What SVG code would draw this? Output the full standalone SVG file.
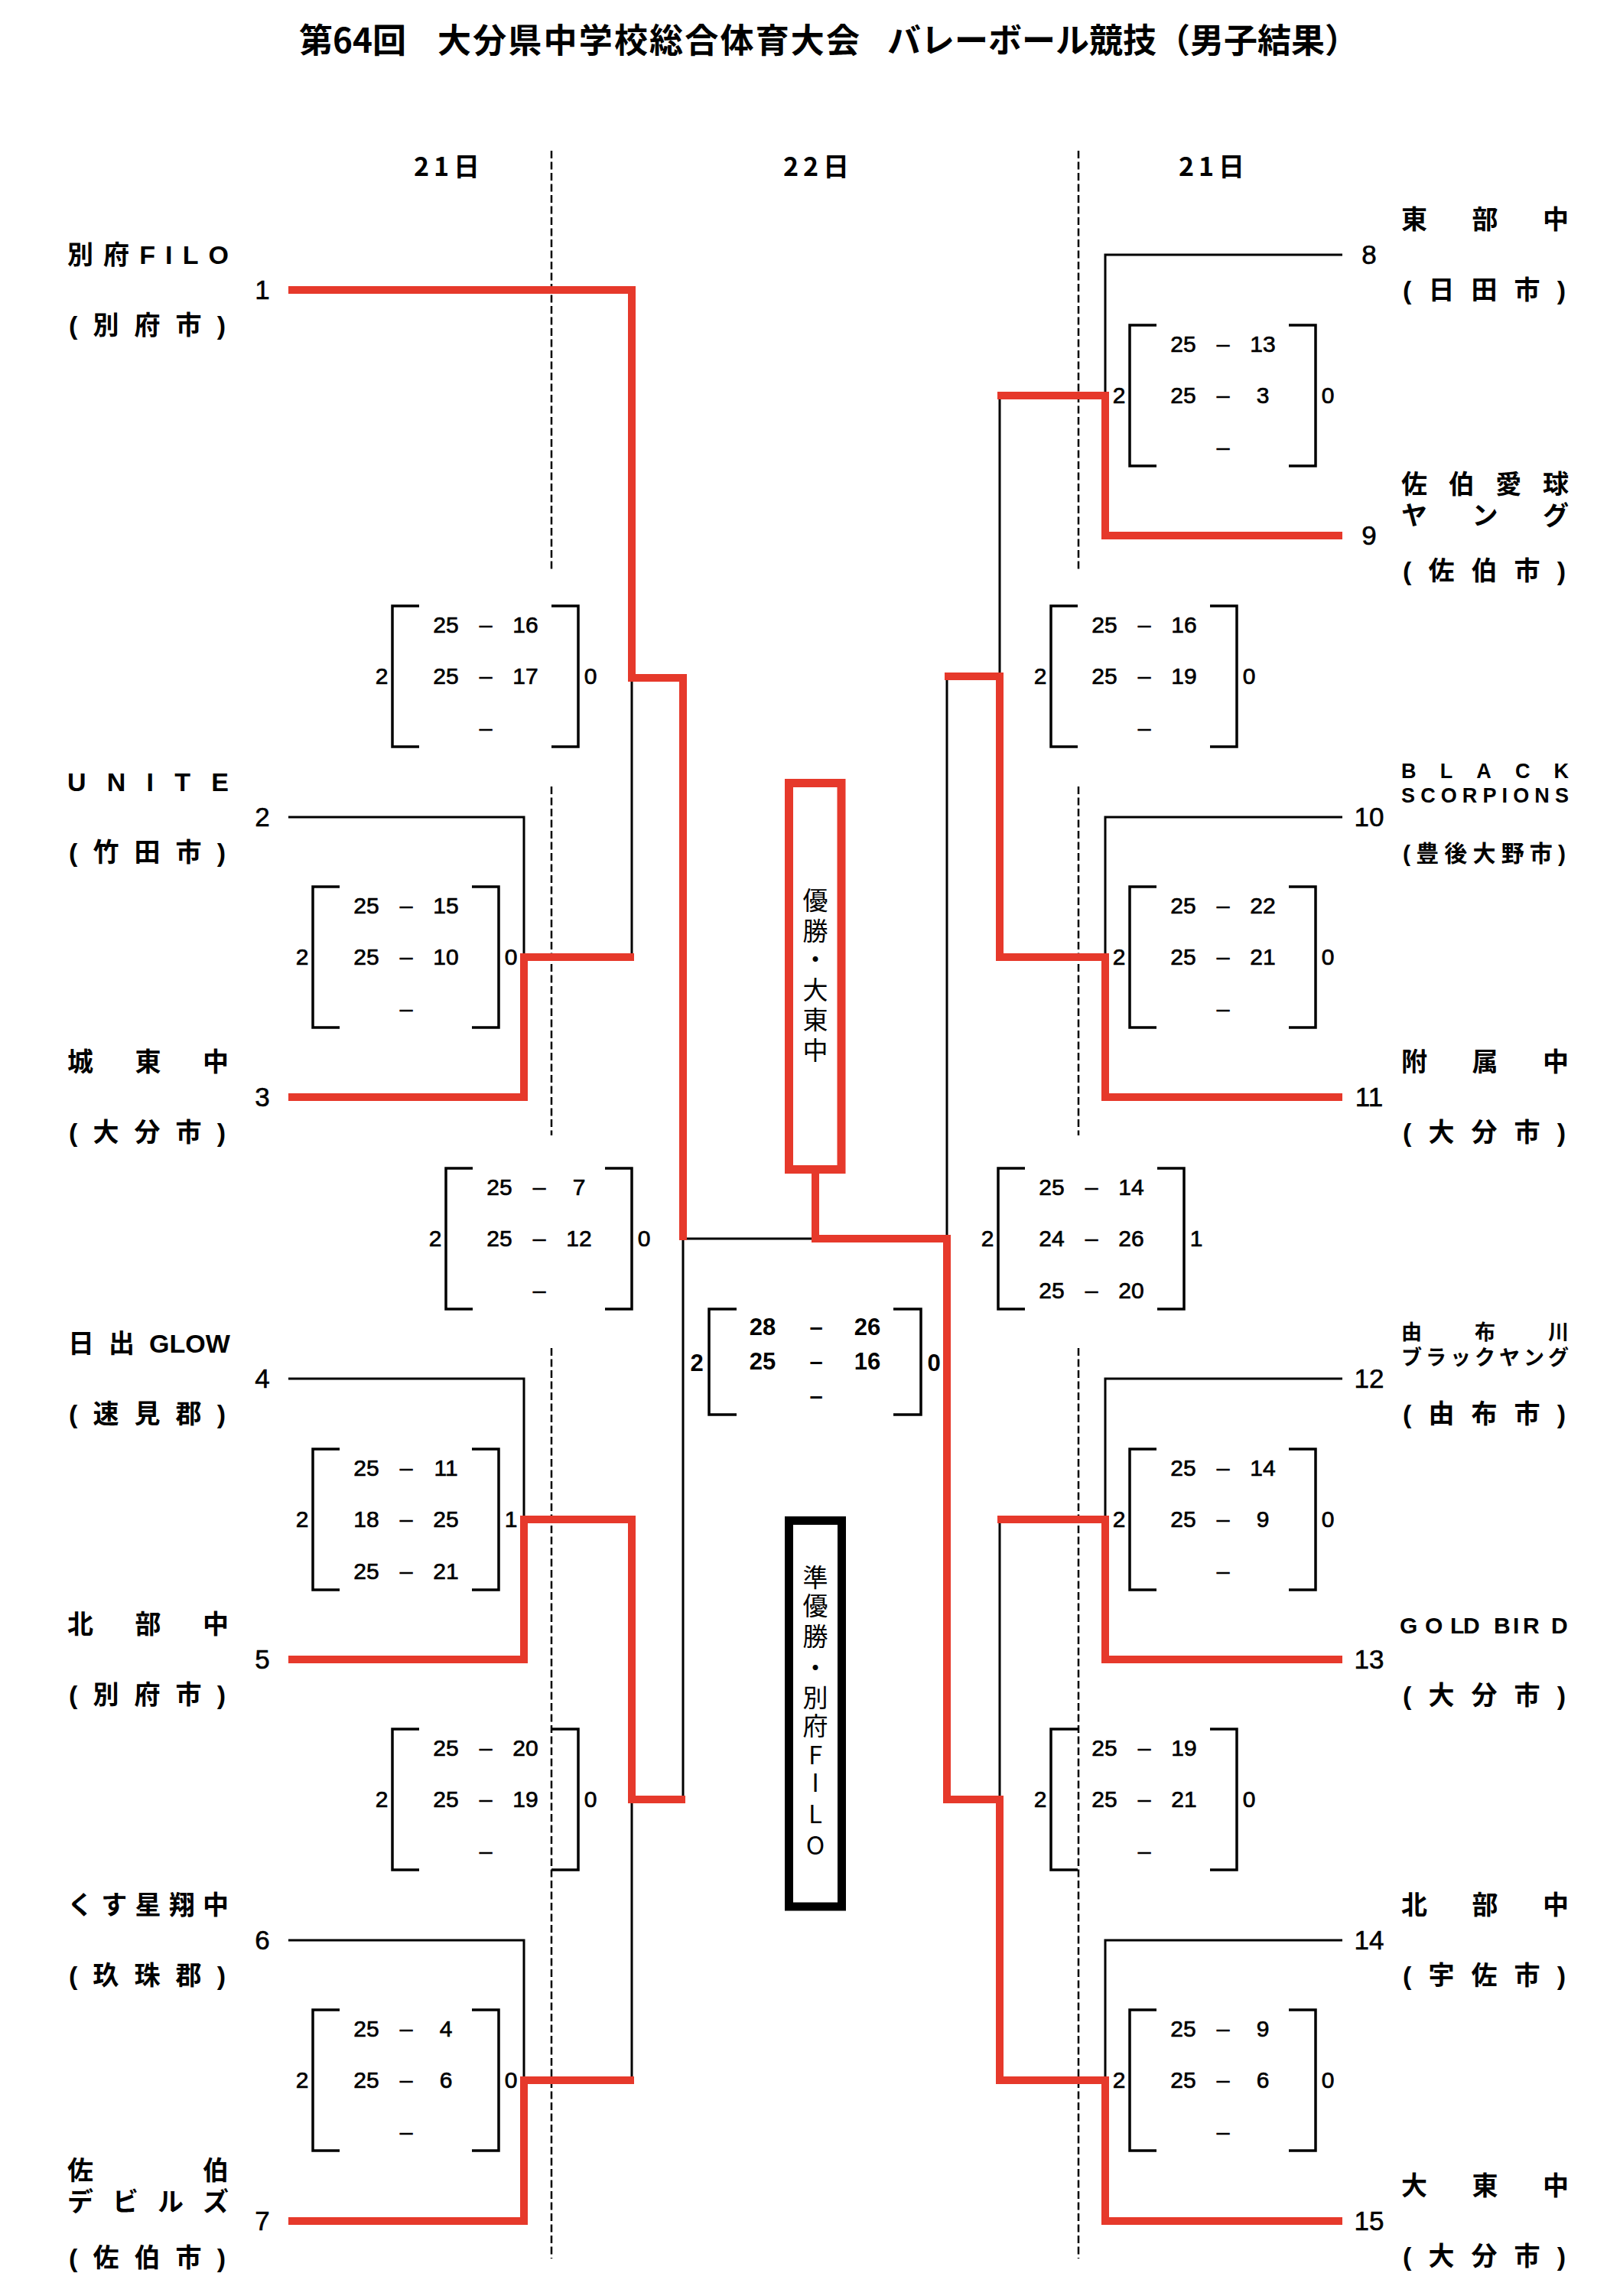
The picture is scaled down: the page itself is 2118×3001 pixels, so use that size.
<svg xmlns="http://www.w3.org/2000/svg" width="2118" height="3001" viewBox="0 0 2118 3001">
<style>
.r{fill:none;stroke:#e6392b;stroke-width:10;stroke-linejoin:miter;stroke-linecap:butt}
.k{fill:none;stroke:#000;stroke-width:3}
.b{fill:none;stroke:#000;stroke-width:3.5}
.d{fill:none;stroke:#000;stroke-width:2.5;stroke-dasharray:10 4.5}
text{fill:#000}
.nm{font-family:"Liberation Sans","Noto Sans CJK JP",sans-serif;font-weight:700;font-size:34px}
.sm{font-size:27px}
.md{font-size:30px}
.no{font-family:"Liberation Sans",sans-serif;font-size:35px;text-anchor:middle;stroke:#000;stroke-width:0.6}
.sc{font-family:"Liberation Sans",sans-serif;font-size:30px;text-anchor:middle;stroke:#000;stroke-width:0.7}
.fs{font-family:"Liberation Sans",sans-serif;font-size:31px;font-weight:700;text-anchor:middle}
.vt{font-family:"Noto Sans CJK JP",sans-serif;font-size:33px;text-anchor:middle}
.ti{font-family:"Noto Sans CJK JP",sans-serif;font-weight:700;font-size:44px}
.dt{font-family:"Noto Sans CJK JP",sans-serif;font-weight:700;font-size:34px;text-anchor:middle}
</style>
<rect width="2118" height="3001" fill="#fff"/>

<g id="title"><text class="ti" y="69"><tspan x="391">第64回</tspan><tspan x="572" textLength="552" lengthAdjust="spacing">大分県中学校総合体育大会</tspan><tspan x="1160">バレーボール競技（男子結果）</tspan></text></g>
<g id="dates">
<text class="dt" x="584" y="230" textLength="86" lengthAdjust="spacing">21日</text>
<text class="dt" x="1067" y="230" textLength="86" lengthAdjust="spacing">22日</text>
<text class="dt" x="1584" y="230" textLength="86" lengthAdjust="spacing">21日</text>
</g>

<g id="day-dividers">
<path class="d" d="M721,197V748M721,1028V1484M721,1762V2952M1410,197V748M1410,1028V1484M1410,1762V2952"/>
</g>

<g id="connectors">
<path class="k" d="M377,1068H685V1251M826,886V1251M377,1802H685V1986M377,2536H685V2719M826,2352V2719M893,2352V1619H1066"/>
<path class="k" d="M1755,333H1445V517M1307,517V884M1755,1068H1445V1251M1238,884V1619M1755,1802H1445V1986M1307,1986V2352M1755,2536H1445V2719"/>
<path class="r" d="M377,379H826V886H893V1621"/>
<path class="r" d="M377,1434H685V1251H829"/>
<path class="r" d="M377,2169H685V1986H826V2352H896"/>
<path class="r" d="M377,2903H685V2719H829"/>
<path class="r" d="M1755,700H1445V517H1304"/>
<path class="r" d="M1755,1434H1445V1251H1307V884H1235"/>
<path class="r" d="M1755,2169H1445V1986H1304"/>
<path class="r" d="M1066,1534V1619H1238V2352H1307V2719H1445V2903H1755"/>
</g>

<g id="team1"><text class="nm" x="88" y="345" textLength="211" lengthAdjust="spacing">別府FILO</text><text class="nm" x="90" y="437" textLength="205" lengthAdjust="spacing">(別府市)</text><text class="no" x="343" y="391">1</text></g>
<g id="team2"><text class="nm" x="88" y="1034" textLength="211" lengthAdjust="spacing">UNITE</text><text class="nm" x="90" y="1126" textLength="205" lengthAdjust="spacing">(竹田市)</text><text class="no" x="343" y="1080">2</text></g>
<g id="team3"><text class="nm" x="88" y="1400" textLength="211" lengthAdjust="spacing">城東中</text><text class="nm" x="90" y="1492" textLength="205" lengthAdjust="spacing">(大分市)</text><text class="no" x="343" y="1446">3</text></g>
<g id="team4"><text class="nm" y="1768"><tspan x="89">日</tspan><tspan x="142">出</tspan><tspan x="195">GLOW</tspan></text><text class="nm" x="90" y="1860" textLength="205" lengthAdjust="spacing">(速見郡)</text><text class="no" x="343" y="1814">4</text></g>
<g id="team5"><text class="nm" x="88" y="2135" textLength="211" lengthAdjust="spacing">北部中</text><text class="nm" x="90" y="2227" textLength="205" lengthAdjust="spacing">(別府市)</text><text class="no" x="343" y="2181">5</text></g>
<g id="team6"><text class="nm" x="88" y="2502" textLength="211" lengthAdjust="spacing">くす星翔中</text><text class="nm" x="90" y="2594" textLength="205" lengthAdjust="spacing">(玖珠郡)</text><text class="no" x="343" y="2548">6</text></g>
<g id="team7"><text class="nm" x="88" y="2849" textLength="211" lengthAdjust="spacing">佐伯</text><text class="nm" x="88" y="2890" textLength="211" lengthAdjust="spacing">デビルズ</text><text class="nm" x="90" y="2963" textLength="205" lengthAdjust="spacing">(佐伯市)</text><text class="no" x="343" y="2915">7</text></g>

<g id="team8"><text class="nm" x="1832" y="299" textLength="219" lengthAdjust="spacing">東部中</text><text class="nm" x="1834" y="391" textLength="213" lengthAdjust="spacing">(日田市)</text><text class="no" x="1790" y="345">8</text></g>
<g id="team9"><text class="nm" x="1832" y="645" textLength="219" lengthAdjust="spacing">佐伯愛球</text><text class="nm" x="1832" y="686" textLength="219" lengthAdjust="spacing">ヤング</text><text class="nm" x="1834" y="758" textLength="213" lengthAdjust="spacing">(佐伯市)</text><text class="no" x="1790" y="712">9</text></g>
<g id="team10"><text class="nm sm" x="1832" y="1017" textLength="219" lengthAdjust="spacing">BLACK</text><text class="nm sm" x="1832" y="1049" textLength="219" lengthAdjust="spacing">SCORPIONS</text><text class="nm md" x="1834" y="1126" textLength="213" lengthAdjust="spacing">(豊後大野市)</text><text class="no" x="1790" y="1080">10</text></g>
<g id="team11"><text class="nm" x="1832" y="1400" textLength="219" lengthAdjust="spacing">附属中</text><text class="nm" x="1834" y="1492" textLength="213" lengthAdjust="spacing">(大分市)</text><text class="no" x="1790" y="1446">11</text></g>
<g id="team12"><text class="nm sm" x="1832" y="1751" textLength="219" lengthAdjust="spacing">由布川</text><text class="nm sm" x="1832" y="1784" textLength="219" lengthAdjust="spacing">ブラックヤング</text><text class="nm" x="1834" y="1860" textLength="213" lengthAdjust="spacing">(由布市)</text><text class="no" x="1790" y="1814">12</text></g>
<g id="team13"><text class="nm md" y="2135" x="1830 1863 1896 1913 1935 1953 1978 1991 2028">GOLD BIRD</text><text class="nm" x="1834" y="2228" textLength="213" lengthAdjust="spacing">(大分市)</text><text class="no" x="1790" y="2181">13</text></g>
<g id="team14"><text class="nm" x="1832" y="2502" textLength="219" lengthAdjust="spacing">北部中</text><text class="nm" x="1834" y="2594" textLength="213" lengthAdjust="spacing">(宇佐市)</text><text class="no" x="1790" y="2548">14</text></g>
<g id="team15"><text class="nm" x="1832" y="2869" textLength="219" lengthAdjust="spacing">大東中</text><text class="nm" x="1834" y="2961" textLength="213" lengthAdjust="spacing">(大分市)</text><text class="no" x="1790" y="2915">15</text></g>

<g id="match-1v3"><path class="b" d="M548,792H513V976H548M721,792H756V976H721"/>
<text class="sc" y="827"><tspan x="583">25</tspan><tspan x="635">–</tspan><tspan x="687">16</tspan></text>
<text class="sc" y="894"><tspan x="583">25</tspan><tspan x="635">–</tspan><tspan x="687">17</tspan></text>
<text class="sc" y="962" x="635">–</text>
<text class="sc" y="894"><tspan x="499">2</tspan><tspan x="772">0</tspan></text></g>

<g id="match-2v3"><path class="b" d="M444,1159H409V1343H444M617,1159H652V1343H617"/>
<text class="sc" y="1194"><tspan x="479">25</tspan><tspan x="531">–</tspan><tspan x="583">15</tspan></text>
<text class="sc" y="1261"><tspan x="479">25</tspan><tspan x="531">–</tspan><tspan x="583">10</tspan></text>
<text class="sc" y="1329" x="531">–</text>
<text class="sc" y="1261"><tspan x="395">2</tspan><tspan x="668">0</tspan></text></g>

<g id="match-semi-left"><path class="b" d="M618,1527H583V1711H618M791,1527H826V1711H791"/>
<text class="sc" y="1562"><tspan x="653">25</tspan><tspan x="705">–</tspan><tspan x="757">7</tspan></text>
<text class="sc" y="1629"><tspan x="653">25</tspan><tspan x="705">–</tspan><tspan x="757">12</tspan></text>
<text class="sc" y="1697" x="705">–</text>
<text class="sc" y="1629"><tspan x="569">2</tspan><tspan x="842">0</tspan></text></g>

<g id="match-4v5"><path class="b" d="M444,1894H409V2078H444M617,1894H652V2078H617"/>
<text class="sc" y="1929"><tspan x="479">25</tspan><tspan x="531">–</tspan><tspan x="583">11</tspan></text>
<text class="sc" y="1996"><tspan x="479">18</tspan><tspan x="531">–</tspan><tspan x="583">25</tspan></text>
<text class="sc" y="2064"><tspan x="479">25</tspan><tspan x="531">–</tspan><tspan x="583">21</tspan></text>
<text class="sc" y="1996"><tspan x="395">2</tspan><tspan x="668">1</tspan></text></g>

<g id="match-5v7"><path class="b" d="M548,2260H513V2444H548M721,2260H756V2444H721"/>
<text class="sc" y="2295"><tspan x="583">25</tspan><tspan x="635">–</tspan><tspan x="687">20</tspan></text>
<text class="sc" y="2362"><tspan x="583">25</tspan><tspan x="635">–</tspan><tspan x="687">19</tspan></text>
<text class="sc" y="2430" x="635">–</text>
<text class="sc" y="2362"><tspan x="499">2</tspan><tspan x="772">0</tspan></text></g>

<g id="match-6v7"><path class="b" d="M444,2627H409V2811H444M617,2627H652V2811H617"/>
<text class="sc" y="2662"><tspan x="479">25</tspan><tspan x="531">–</tspan><tspan x="583">4</tspan></text>
<text class="sc" y="2729"><tspan x="479">25</tspan><tspan x="531">–</tspan><tspan x="583">6</tspan></text>
<text class="sc" y="2797" x="531">–</text>
<text class="sc" y="2729"><tspan x="395">2</tspan><tspan x="668">0</tspan></text></g>

<g id="match-8v9"><path class="b" d="M1512,425H1477V609H1512M1685,425H1720V609H1685"/>
<text class="sc" y="460"><tspan x="1547">25</tspan><tspan x="1599">–</tspan><tspan x="1651">13</tspan></text>
<text class="sc" y="527"><tspan x="1547">25</tspan><tspan x="1599">–</tspan><tspan x="1651">3</tspan></text>
<text class="sc" y="595" x="1599">–</text>
<text class="sc" y="527"><tspan x="1463">2</tspan><tspan x="1736">0</tspan></text></g>

<g id="match-9v11"><path class="b" d="M1409,792H1374V976H1409M1582,792H1617V976H1582"/>
<text class="sc" y="827"><tspan x="1444">25</tspan><tspan x="1496">–</tspan><tspan x="1548">16</tspan></text>
<text class="sc" y="894"><tspan x="1444">25</tspan><tspan x="1496">–</tspan><tspan x="1548">19</tspan></text>
<text class="sc" y="962" x="1496">–</text>
<text class="sc" y="894"><tspan x="1360">2</tspan><tspan x="1633">0</tspan></text></g>

<g id="match-10v11"><path class="b" d="M1512,1159H1477V1343H1512M1685,1159H1720V1343H1685"/>
<text class="sc" y="1194"><tspan x="1547">25</tspan><tspan x="1599">–</tspan><tspan x="1651">22</tspan></text>
<text class="sc" y="1261"><tspan x="1547">25</tspan><tspan x="1599">–</tspan><tspan x="1651">21</tspan></text>
<text class="sc" y="1329" x="1599">–</text>
<text class="sc" y="1261"><tspan x="1463">2</tspan><tspan x="1736">0</tspan></text></g>

<g id="match-semi-right"><path class="b" d="M1340,1527H1305V1711H1340M1513,1527H1548V1711H1513"/>
<text class="sc" y="1562"><tspan x="1375">25</tspan><tspan x="1427">–</tspan><tspan x="1479">14</tspan></text>
<text class="sc" y="1629"><tspan x="1375">24</tspan><tspan x="1427">–</tspan><tspan x="1479">26</tspan></text>
<text class="sc" y="1697"><tspan x="1375">25</tspan><tspan x="1427">–</tspan><tspan x="1479">20</tspan></text>
<text class="sc" y="1629"><tspan x="1291">2</tspan><tspan x="1564">1</tspan></text></g>

<g id="match-12v13"><path class="b" d="M1512,1894H1477V2078H1512M1685,1894H1720V2078H1685"/>
<text class="sc" y="1929"><tspan x="1547">25</tspan><tspan x="1599">–</tspan><tspan x="1651">14</tspan></text>
<text class="sc" y="1996"><tspan x="1547">25</tspan><tspan x="1599">–</tspan><tspan x="1651">9</tspan></text>
<text class="sc" y="2064" x="1599">–</text>
<text class="sc" y="1996"><tspan x="1463">2</tspan><tspan x="1736">0</tspan></text></g>

<g id="match-13v15"><path class="b" d="M1409,2260H1374V2444H1409M1582,2260H1617V2444H1582"/>
<text class="sc" y="2295"><tspan x="1444">25</tspan><tspan x="1496">–</tspan><tspan x="1548">19</tspan></text>
<text class="sc" y="2362"><tspan x="1444">25</tspan><tspan x="1496">–</tspan><tspan x="1548">21</tspan></text>
<text class="sc" y="2430" x="1496">–</text>
<text class="sc" y="2362"><tspan x="1360">2</tspan><tspan x="1633">0</tspan></text></g>

<g id="match-14v15"><path class="b" d="M1512,2627H1477V2811H1512M1685,2627H1720V2811H1685"/>
<text class="sc" y="2662"><tspan x="1547">25</tspan><tspan x="1599">–</tspan><tspan x="1651">9</tspan></text>
<text class="sc" y="2729"><tspan x="1547">25</tspan><tspan x="1599">–</tspan><tspan x="1651">6</tspan></text>
<text class="sc" y="2797" x="1599">–</text>
<text class="sc" y="2729"><tspan x="1463">2</tspan><tspan x="1736">0</tspan></text></g>

<g id="match-final"><path class="b" d="M963,1711H927V1849H963M1168,1711H1204V1849H1168"/>
<text class="fs" y="1745"><tspan x="997">28</tspan><tspan x="1067">–</tspan><tspan x="1134">26</tspan></text>
<text class="fs" y="1790"><tspan x="997">25</tspan><tspan x="1067">–</tspan><tspan x="1134">16</tspan></text>
<text class="fs" y="1835" x="1067">–</text>
<text class="fs" y="1792"><tspan x="911">2</tspan><tspan x="1221">0</tspan></text></g>

<g id="champion"><rect x="1031.5" y="1023.5" width="68.5" height="505" fill="#fff" stroke="#e6392b" stroke-width="11"/>
<text class="vt" x="1066 1066 1066 1066 1066 1066" y="1189 1229 1266 1306 1345 1385">優勝・大東中</text></g>
<g id="runner-up"><rect x="1031.5" y="1987.5" width="69" height="504.5" fill="#fff" stroke="#000" stroke-width="11"/>
<text class="vt" x="1066 1066 1066 1066 1066 1066 1066 1066 1066 1066" y="2074 2111 2151 2192 2231 2268 2306 2342 2383 2424">準優勝・別府FILO</text></g>
</svg>
